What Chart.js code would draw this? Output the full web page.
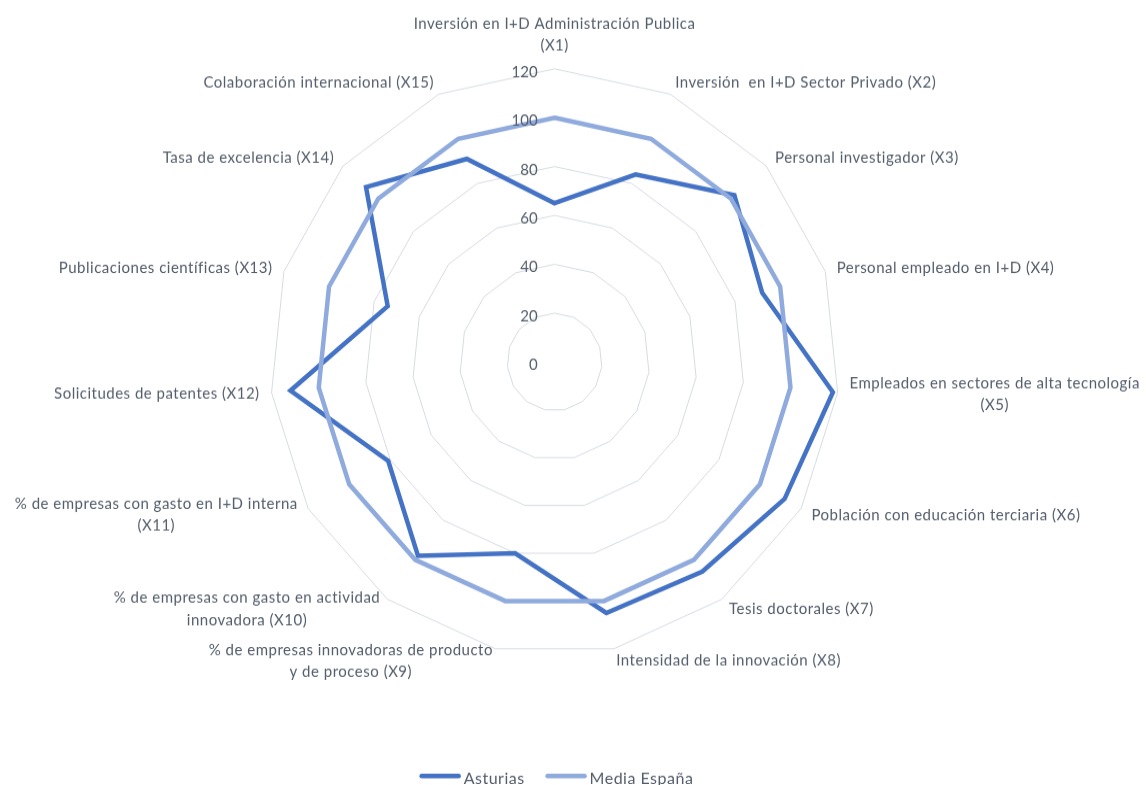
<!DOCTYPE html>
<html>
<head>
<meta charset="utf-8">
<title>Radar I+D+i</title>
<script src="https://cdn.jsdelivr.net/npm/chart.js@4/dist/chart.umd.min.js"></script>
<style>
  html, body { margin: 0; padding: 0; background: #fff; overflow: hidden; width: 1146px; height: 785px; }
  /* el gráfico original sale algo estirado en vertical */
  #wrap { width: 1146px; height: 762px; transform: scaleY(1.030184); transform-origin: 0 0; }
</style>
</head>
<body>
<div id="wrap"><canvas id="myChart" width="1146" height="762"></canvas></div>
<script>
// ejes del radar (indicadores)
var etiquetas = [
    ["Inversión en I+D Administración Publica", "(X1)"],
    ["Inversión  en I+D Sector Privado (X2)"],
    ["Personal investigador (X3)"],
    ["Personal empleado en I+D (X4)"],
    ["Empleados en sectores de alta tecnología", "(X5)"],
    ["Población con educación terciaria (X6)"],
    ["Tesis doctorales (X7)"],
    ["Intensidad de la innovación (X8)"],
    ["% de empresas innovadoras de producto", "y de proceso (X9)"],
    ["% de empresas con gasto en actividad", "innovadora (X10)"],
    ["% de empresas con gasto en I+D interna", "(X11)"],
    ["Solicitudes de patentes (X12)"],
    ["Publicaciones científicas (X13)"],
    ["Tasa de excelencia (X14)"],
    ["Colaboración internacional (X15)"]
];
// índices (España = 100)
var asturias    = [65, 84, 102, 92, 118, 112, 106, 105, 80, 98, 81, 112, 74, 107, 91];
var mediaEspana = [100, 100, 100, 100, 100, 100, 100, 100, 100, 100, 100, 100, 100, 100, 100];
var ticksEje = [0, 20, 40, 60, 80, 100, 120];
var series = ["Asturias", "Media España"];
var colores = ["#4472C4", "#8FAADC"];

var FUENTE = "Lato, 'Open Sans', sans-serif";
var colorTexto = "#535d6b";

// textos: valores del eje, nombres de los indicadores y leyenda
var textos = {
    id: "textos",
    afterDatasetsDraw: function(chart) {
        var ctx = chart.ctx, r = chart.scales.r;
        ctx.save();
        ctx.fillStyle = colorTexto;

        // 1) valores del eje a la izquierda del eje vertical
        ctx.font = "15px " + FUENTE;
        ctx.textAlign = "right";
        ctx.textBaseline = "middle";
        ticksEje.forEach(function(v) {
            ctx.fillText(String(v), r.xCenter - 17, r.yCenter - r.getDistanceFromCenterForValue(v) + 3);
        });

        // 2) nombres de los indicadores
        ctx.font = "15px " + FUENTE;
        ctx.letterSpacing = "0.5px";
        ctx.textAlign = "center";
        var lh = 21.4;
        for (var i = 0; i < etiquetas.length; i++) {
            var lineas = etiquetas[i];
            var p = r.getPointPosition(i, r.drawingArea + 12);
            var ang = 2 * Math.PI * i / etiquetas.length;
            var s = Math.sin(ang), c = Math.cos(ang);
            var w = 0;
            lineas.forEach(function(t) { w = Math.max(w, ctx.measureText(t).width); });
            var h = lineas.length * lh;
            var xc = p.x, yc = p.y;
            if (s > 0.05) xc = p.x + w / 2;
            else if (s < -0.05) xc = p.x - w / 2;
            else yc = c > 0 ? p.y - h / 2 : p.y + h / 2;
            for (var k = 0; k < lineas.length; k++) {
                ctx.fillText(lineas[k], xc, yc - h / 2 + lh * (k + 0.5));
            }
        }

        // 3) leyenda abajo: linea + nombre de la serie
        ctx.font = "16px " + FUENTE;
        ctx.textAlign = "left";
        var largo = 41, hueco = 3, sep = 21, total = 0;
        for (k = 0; k < series.length; k++) {
            total += largo + hueco + ctx.measureText(series[k]).width + (k ? sep : 0);
        }
        var x = 556.5 - total / 2, y = 753.3;
        for (k = 0; k < series.length; k++) {
            ctx.strokeStyle = colores[k];
            ctx.lineWidth = 4.5;
            ctx.lineCap = "round";
            ctx.beginPath();
            ctx.moveTo(x + 2, y);
            ctx.lineTo(x + largo - 2, y);
            ctx.stroke();
            x += largo + hueco;
            ctx.fillText(series[k], x, y + 3);
            x += ctx.measureText(series[k]).width + sep;
        }
        ctx.restore();
    }
};

function main() {
    var ctx = document.getElementById("myChart").getContext("2d");
    var myChart = new Chart(ctx, {
        type: "radar",
        data: {
            labels: etiquetas,
            datasets: [
                { label: series[0], data: asturias, borderColor: colores[0], order: 1 },
                { label: series[1], data: mediaEspana, borderColor: colores[1], order: 0 }
            ]
        },
        options: {
            responsive: false,
            animation: false,
            devicePixelRatio: 1,
            elements: {
                line: { borderWidth: 4.5, tension: 0, fill: false, borderJoinStyle: "miter" },
                point: { radius: 0, hoverRadius: 0 }
            },
            plugins: {
                legend: { display: false },
                tooltip: { enabled: false }
            },
            scales: {
                r: {
                    min: 0,
                    max: 120,
                    ticks: { stepSize: 20, display: false },
                    pointLabels: { display: false },
                    angleLines: { display: false },
                    grid: { color: "#d6dbe3", lineWidth: 1 },
                    // centro y radio fijos del polígono
                    afterFit: function(s) {
                        s.xCenter = 554.6;
                        s.yCenter = 351.4;
                        s.drawingArea = 284.6;
                    }
                }
            }
        },
        plugins: [textos]
    });
}

main();
</script>
</body>
</html>
